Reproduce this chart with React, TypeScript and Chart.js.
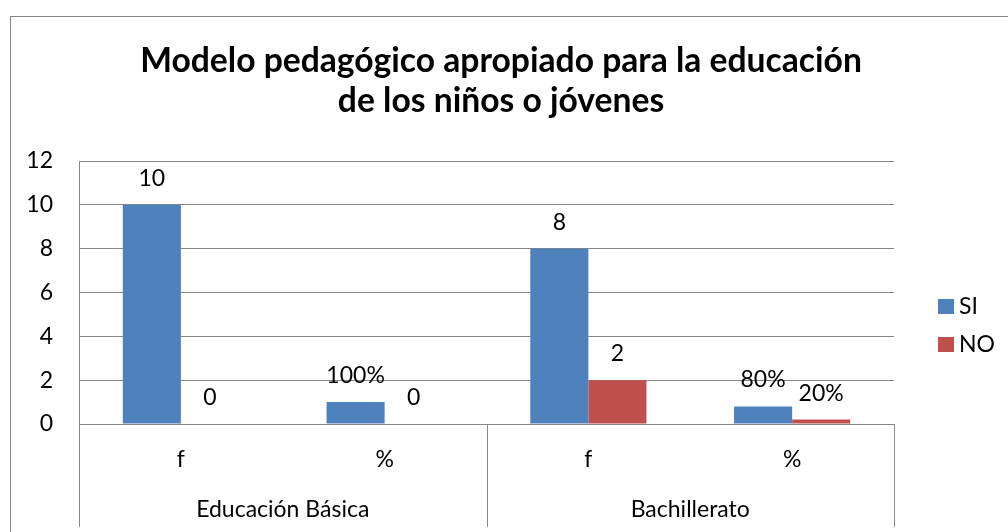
import React, { useEffect, useRef } from "react";
import { Chart, registerables } from "chart.js";

Chart.register(...registerables);

const categories = ["f", "%", "f", "%"];
const groups = ["Educación Básica", "Bachillerato"];
const seriesNames = ["SI", "NO"];
const siValues = [10, 1, 8, 0.8];
const noValues = [0, 0, 2, 0.2];
const siLabels = ["10", "100%", "8", "80%"];
const noLabels = ["0", "0", "2", "20%"];
const seriesColors = ["#4F81BD", "#C0504D"];
const titleLines = [
  "Modelo pedagógico apropiado para la educación",
  "de los niños o jóvenes",
];
const yMin = 0;
const yMax = 12;
const yStep = 2;

const FONT = "Lato, 'Open Sans', sans-serif";
const GRID = "#878787";
const TXT = 23;

const decorPlugin = {
  id: "decor",
  beforeDraw(chart: any) {
    const ctx = chart.ctx;
    ctx.save();
    ctx.fillStyle = "#fff";
    ctx.fillRect(0, 0, chart.width, chart.height);
    ctx.strokeStyle = GRID;
    ctx.lineWidth = 1;
    ctx.strokeRect(10.5, 16.5, chart.width + 20, chart.height + 20);
    ctx.restore();
  },
  afterDraw(chart: any) {
    const ctx = chart.ctx;
    const area = chart.chartArea;
    ctx.save();

    // category dividers
    const xs = chart.scales.x;
    const mid = (xs.getPixelForValue(1) + xs.getPixelForValue(2)) / 2;
    ctx.strokeStyle = GRID;
    ctx.lineWidth = 1;
    [area.left, mid, area.right].forEach((px: number) => {
      const x = Math.round(px) + 0.5;
      ctx.beginPath();
      ctx.moveTo(x, area.bottom);
      ctx.lineTo(x, 527);
      ctx.stroke();
    });

    // title
    let size = 30;
    ctx.font = `bold ${size}px ${FONT}`;
    const w = ctx.measureText(titleLines[0]).width;
    size = (size * 722) / w;
    ctx.font = `bold ${size}px ${FONT}`;
    ctx.fillStyle = "#000";
    ctx.textAlign = "center";
    ctx.textBaseline = "alphabetic";
    ctx.fillText(titleLines[0], 501, 72);
    ctx.fillText(titleLines[1], 501, 112);

    // data labels
    const labelSets = [siLabels, noLabels];
    ctx.font = `${TXT}px ${FONT}`;
    ctx.textAlign = "center";
    chart.data.datasets.forEach((_ds: any, di: number) => {
      const meta = chart.getDatasetMeta(di);
      meta.data.forEach((bar: any, i: number) => {
        ctx.fillText(labelSets[di][i], bar.x, bar.y - 19);
      });
    });

    // legend
    ctx.font = `${TXT}px ${FONT}`;
    ctx.textAlign = "left";
    ctx.textBaseline = "middle";
    chart.data.datasets.forEach((ds: any, di: number) => {
      const top = 299 + di * 38;
      ctx.fillStyle = ds.backgroundColor;
      ctx.fillRect(938, top, 16, 15);
      ctx.fillStyle = "#000";
      ctx.fillText(ds.label, 959, top + 8);
    });
    ctx.restore();
  },
};

export default function App() {
  const ref = useRef<HTMLCanvasElement | null>(null);
  useEffect(() => {
    if (!ref.current) return;
    const chart = new Chart(ref.current, {
      type: "bar",
      data: {
        labels: categories,
        datasets: [
          { label: seriesNames[0], data: siValues, backgroundColor: seriesColors[0] },
          { label: seriesNames[1], data: noValues, backgroundColor: seriesColors[1] },
        ],
      },
      options: {
        responsive: false,
        animation: false,
        events: [],
        layout: { padding: { left: 10, right: 114, top: 161, bottom: 0 } },
        datasets: { bar: { categoryPercentage: 0.57, barPercentage: 1.0 } },
        plugins: { legend: { display: false }, title: { display: false }, tooltip: { enabled: false } },
        scales: {
          x: {
            type: "category",
            position: "bottom",
            weight: 0,
            grid: { display: false, drawTicks: false },
            border: { display: false },
            ticks: { font: { family: FONT, size: TXT }, color: "#000", padding: 22, maxRotation: 0 },
            afterFit: (s: any) => { s.height = 60; },
          },
          x2: {
            type: "category",
            position: "bottom",
            weight: 1,
            labels: groups,
            offset: true,
            grid: { display: false, drawTicks: false },
            border: { display: false },
            ticks: { font: { family: FONT, size: TXT }, color: "#000", padding: 12, maxRotation: 0 },
            afterFit: (s: any) => { s.height = 48; },
          },
          y: {
            min: yMin,
            max: yMax,
            ticks: { stepSize: yStep, font: { family: FONT, size: TXT }, color: "#000", padding: 26 },
            grid: { color: GRID, drawTicks: false },
            border: { color: GRID },
            afterFit: (s: any) => { s.width = 69; },
          },
        },
      } as any,
      plugins: [decorPlugin],
    });
    return () => chart.destroy();
  }, []);
  return (
    <div style={{ position: "absolute", left: 0, top: 0, width: 1008, height: 532 }}>
      <canvas ref={ref} width={1008} height={532} />
    </div>
  );
}
